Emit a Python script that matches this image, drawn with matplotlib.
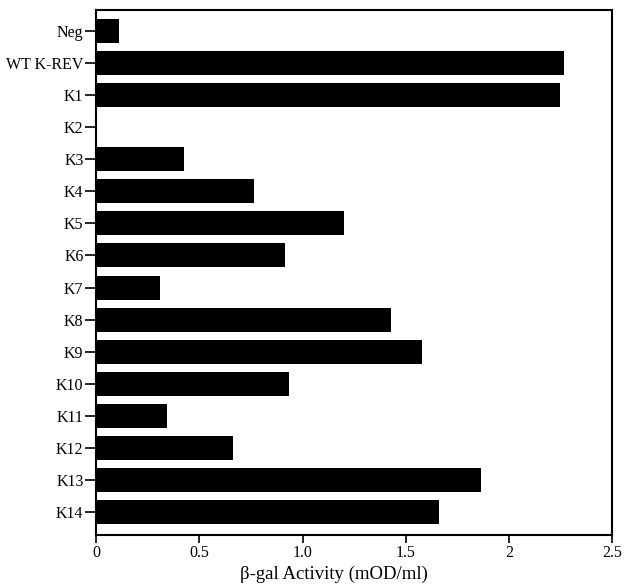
import numpy as np
import matplotlib.pyplot as plt

plt.rcParams['font.family'] = ['Liberation Serif', 'DejaVu Serif']

# strains and their beta-gal activity (mOD/ml)
labels = ['Neg', 'WT K-REV', 'K1', 'K2', 'K3', 'K4', 'K5', 'K6', 'K7',
          'K8', 'K9', 'K10', 'K11', 'K12', 'K13', 'K14']
activity = [0.111, 2.267, 2.248, 0.0, 0.426, 0.766, 1.20, 0.916, 0.31,
            1.43, 1.58, 0.935, 0.344, 0.664, 1.865, 1.662]
xticks = [0, 0.5, 1.0, 1.5, 2, 2.5]
xticklabels = ['0', '0.5', '1.0', '1.5', '2', '2.5']

fig = plt.figure(figsize=(6.28, 5.88), dpi=100)
ax = fig.add_axes([0.153, 0.090, 0.822, 0.893])

ypos = np.arange(len(labels))
ax.barh(ypos, activity, height=0.75, color='black')

ax.set_xlim(0, 2.5)
ax.set_ylim(15.72, -0.655)
ax.set_yticks(ypos)
ax.set_yticklabels(labels, fontsize=11.5)
ax.set_xticks(xticks)
ax.set_xticklabels(xticklabels, fontsize=11.5)
ax.tick_params(axis='y', length=8, width=1.2, pad=1)
ax.tick_params(axis='x', length=6, width=1.2, pad=1)
for s in ax.spines.values():
    s.set_linewidth(1.5)

ax.set_xlabel('β-gal Activity (mOD/ml)', fontsize=13.5)
ax.xaxis.set_label_coords(0.46, -0.058)

fig.savefig('out.png', dpi=100)
